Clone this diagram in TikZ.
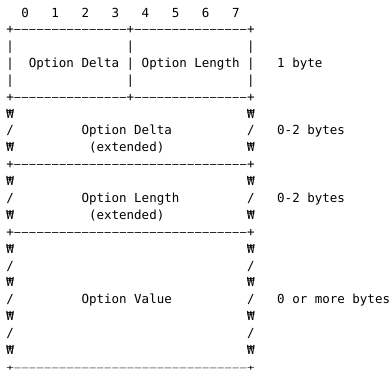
\documentclass[tikz,border=0pt]{standalone}
\usepackage{graphicx}
\usepackage{fontspec}
\newfontfamily\ascfont{DejaVu Sans Mono}
% one rule character, a little narrower than its cell so the runs show gaps
\newcommand\dch{\makebox[7.525pt][c]{\scalebox{0.84}[1]{–}}}
% a run of n rule characters
\ExplSyntaxOn
\NewDocumentCommand\dashrun{m}{\prg_replicate:nn{#1}{\dch}}
\ExplSyntaxOff
% character grid: column width and line pitch (in pt)
\newcommand\colw{7.525}
\newcommand\rowh{16.9}
\tikzset{
  asc/.style={anchor=base west, inner sep=0pt, outer sep=0pt,
    font=\ascfont\fontsize{12.5}{16.9}\selectfont, text=black}
}
% \cellat{name}{column}{row}{text}
\newcommand\cellat[4]{\node[asc] (#1) at ({6.3+\colw*#2},{16.6+\rowh*#3}) {#4};}
\begin{document}
\begin{tikzpicture}[x=1pt,y=-1pt]
  \fill[white] (0,0) rectangle (392,372);
  \useasboundingbox (0,0) rectangle (392,372);

  % bit numbers
  \begin{scope}[yshift=-1pt]
  \cellat{b0}{2}{0}{0}
  \cellat{b1}{6}{0}{1}
  \cellat{b2}{10}{0}{2}
  \cellat{b3}{14}{0}{3}
  \cellat{b4}{18}{0}{4}
  \cellat{b5}{22}{0}{5}
  \cellat{b6}{26}{0}{6}
  \cellat{b7}{30}{0}{7}
  \end{scope}

  % first byte: delta and length nibbles
  \cellat{top}{0}{1}{+\dashrun{15}+\dashrun{15}+}
  \cellat{l2a}{0}{2}{|}
  \cellat{l2b}{16}{2}{|}
  \cellat{l2c}{32}{2}{|}
  \cellat{l3a}{0}{3}{|}
  \cellat{delta}{3}{3}{Option Delta}
  \cellat{l3b}{16}{3}{|}
  \cellat{length}{18}{3}{Option Length}
  \cellat{l3c}{32}{3}{|}
  \cellat{size1}{36}{3}{1 byte}
  \cellat{l4a}{0}{4}{|}
  \cellat{l4b}{16}{4}{|}
  \cellat{l4c}{32}{4}{|}
  \cellat{rule1}{0}{5}{+\dashrun{15}+\dashrun{15}+}

  % extended delta
  \cellat{l6a}{0}{6}{₩}
  \cellat{l6b}{32}{6}{₩}
  \cellat{l7a}{0}{7}{/}
  \cellat{xdelta}{10}{7}{Option Delta}
  \cellat{l7b}{32}{7}{/}
  \cellat{size2}{36}{7}{0-2 bytes}
  \cellat{l8a}{0}{8}{₩}
  \cellat{xdeltab}{11}{8}{(extended)}
  \cellat{l8b}{32}{8}{₩}
  \cellat{rule2}{0}{9}{+\dashrun{31}+}

  % extended length
  \cellat{l10a}{0}{10}{₩}
  \cellat{l10b}{32}{10}{₩}
  \cellat{l11a}{0}{11}{/}
  \cellat{xlength}{10}{11}{Option Length}
  \cellat{l11b}{32}{11}{/}
  \cellat{size3}{36}{11}{0-2 bytes}
  \cellat{l12a}{0}{12}{₩}
  \cellat{xlengthb}{11}{12}{(extended)}
  \cellat{l12b}{32}{12}{₩}
  \cellat{rule3}{0}{13}{+\dashrun{31}+}

  % option value
  \cellat{l14a}{0}{14}{₩}
  \cellat{l14b}{32}{14}{₩}
  \cellat{l15a}{0}{15}{/}
  \cellat{l15b}{32}{15}{/}
  \cellat{l16a}{0}{16}{₩}
  \cellat{l16b}{32}{16}{₩}
  \cellat{l17a}{0}{17}{/}
  \cellat{value}{10}{17}{Option Value}
  \cellat{l17b}{32}{17}{/}
  \cellat{size4}{36}{17}{0 or more bytes}
  \cellat{l18a}{0}{18}{₩}
  \cellat{l18b}{32}{18}{₩}
  \cellat{l19a}{0}{19}{/}
  \cellat{l19b}{32}{19}{/}
  \cellat{l20a}{0}{20}{₩}
  \cellat{l20b}{32}{20}{₩}
  % closing rule sits on the lower edge: set it a little flatter
  \node[asc] (bottom) at (6.3,370) {\scalebox{1}[0.6]{+\dashrun{31}+}};
\end{tikzpicture}
\end{document}
